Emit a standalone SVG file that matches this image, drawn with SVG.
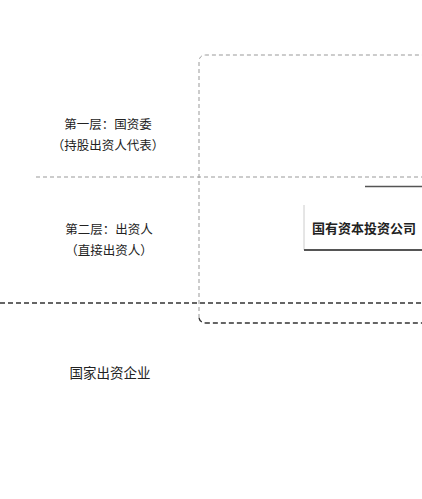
<svg xmlns="http://www.w3.org/2000/svg" width="422" height="499" viewBox="0 0 422 499">
<style>
.lbl{font-family:"Noto Sans CJK SC","Noto Sans CJK JP",sans-serif;font-size:12.5px;fill:#222;text-anchor:middle}
.light{fill:none;stroke:#999;stroke-width:1;stroke-dasharray:4 3}
.dark{fill:none;stroke:#333;stroke-width:1.5;stroke-dasharray:5 3}
</style>
<rect width="422" height="499" fill="#fff"/>
<g id="connectors">
<line class="light" x1="36" y1="177" x2="422" y2="177"/>
<line class="dark" x1="0" y1="303" x2="422" y2="303"/>
<path class="light" d="M199,318 V62 Q199,55 206,55 H422"/>
<path class="dark" d="M199,318 Q200,323 207,323 H422" style="stroke-width:1.3"/>
</g>
<g id="layer1">
<text class="lbl" x="108" y="129">第一层：国资委</text>
<text class="lbl" x="108" y="150">（持股出资人代表）</text>
</g>
<g id="layer2">
<text class="lbl" x="109" y="234">第二层：出资人</text>
<text class="lbl" x="109" y="255">（直接出资人）</text>
</g>
<g id="layer3">
<text class="lbl" x="110" y="378" style="font-size:13.5px">国家出资企业</text>
</g>
<g id="company">
<line x1="365" y1="186.5" x2="422" y2="186.5" stroke="#555" stroke-width="1.5"/>
<line x1="304" y1="205" x2="304" y2="250" stroke="#ccc" stroke-width="1"/>
<line x1="304" y1="250" x2="422" y2="250" stroke="#555" stroke-width="2"/>
<text class="lbl" x="364" y="233" style="font-size:13px;font-weight:bold">国有资本投资公司</text>
</g>
</svg>
